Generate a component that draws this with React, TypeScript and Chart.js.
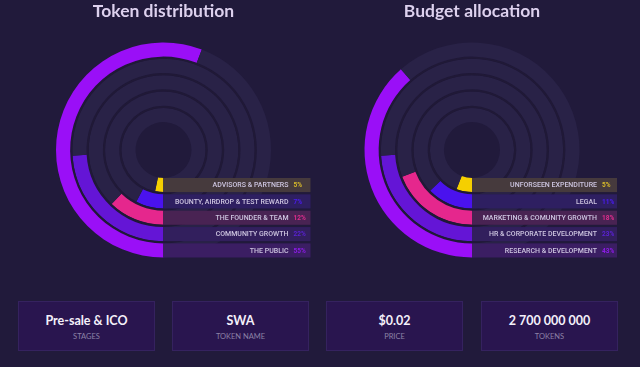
import React, { useEffect, useRef } from "react";
import { Chart, registerables } from "chart.js";
Chart.register(...registerables);

// ---------- data ----------
const tokenTitle = "Token distribution";
const tokenCategories = ["ADVISORS & PARTNERS", "BOUNTY, AIRDROP & TEST REWARD", "THE FOUNDER & TEAM", "COMMUNITY GROWTH", "THE PUBLIC"];
const tokenPercentLabels = ["5%", "7%", "12%", "22%", "55%"];
const tokenArcValues = [3.2, 7.7, 12.2, 24, 55.8];

const budgetTitle = "Budget allocation";
const budgetCategories = ["UNFORSEEN EXPENDITURE", "LEGAL", "MARKETING & COMUNITY GROWTH", "HR & CORPORATE DEVELOPMENT", "RESEARCH & DEVELOPMENT"];
const budgetPercentLabels = ["5%", "11%", "18%", "23%", "43%"];
const budgetArcValues = [6, 12.7, 19.2, 24, 38.5];

const statValues = ["Pre-sale & ICO", "SWA", "$0.02", "2 700 000 000"];
const statLabels = ["STAGES", "TOKEN NAME", "PRICE", "TOKENS"];

// ---------- style ----------
const BG = "#211a3b";
const TRACK = "#292247";
const SPACER = "#201937";
const ringColors = ["#f5cf00", "#4a12ee", "#e5278d", "#6415d6", "#9a0ff7"];
const rowTints = ["rgba(245,207,0,0.14)", "rgba(74,18,238,0.16)", "rgba(229,39,141,0.17)", "rgba(100,21,214,0.16)", "rgba(154,15,247,0.16)"];
const pctColors = ["#d9bb2a", "#4a1cf0", "#e02d8e", "#5a22d2", "#8c1ce6"];

type RingCfg = { categories: string[]; pcts: string[]; values: number[]; width: number };

const OUTER_R = 107.5;
const INNER_R = 28;

function RingChart({ cfg }: { cfg: RingCfg }) {
  const ref = useRef<HTMLCanvasElement>(null);
  useEffect(() => {
    if (!ref.current) return;
    const datasets: any[] = [];
    const ringIndexOf: number[] = [];
    for (let k = cfg.values.length - 1; k >= 0; k--) {
      ringIndexOf[k] = datasets.length;
      datasets.push({
        data: [cfg.values[k], 100 - cfg.values[k]],
        backgroundColor: [ringColors[k], TRACK],
        borderWidth: 0,
        weight: 14,
      });
      if (k > 0) {
        datasets.push({ data: [100], backgroundColor: [SPACER], borderWidth: 0, weight: 2.2 });
      }
    }
    const rowsPlugin = {
      id: "rows",
      afterDatasetsDraw(chart: any) {
        const ctx = chart.ctx as CanvasRenderingContext2D;
        ctx.save();
        for (let k = 0; k < cfg.values.length; k++) {
          const arc = chart.getDatasetMeta(ringIndexOf[k]).data[0];
          const cx = arc.x, cy = arc.y;
          const y0 = cy + arc.innerRadius;
          const h = arc.outerRadius - arc.innerRadius;
          const w = 147;
          ctx.fillStyle = TRACK;
          ctx.fillRect(cx, y0, w, h);
          ctx.fillStyle = rowTints[k];
          ctx.fillRect(cx, y0, w, h);
          const ym = y0 + h / 2 + 0.5;
          ctx.textBaseline = "middle";
          ctx.font = "500 7px Roboto";
          ctx.fillStyle = "#cdc5e0";
          ctx.textAlign = "right";
          ctx.fillText(cfg.categories[k], cx + 125, ym);
          ctx.font = "bold 6.5px Roboto";
          ctx.fillStyle = pctColors[k];
          ctx.textAlign = "left";
          ctx.fillText(cfg.pcts[k], cx + 130, ym);
        }
        ctx.restore();
      },
    };
    const chart = new Chart(ref.current, {
      type: "doughnut",
      data: { labels: ["value", "rest"], datasets },
      options: {
        animation: false,
        responsive: false,
        events: [],
        rotation: 180,
        radius: OUTER_R,
        cutout: (INNER_R / OUTER_R) * 100 + "%",
        layout: { padding: 0 },
        plugins: { legend: { display: false }, tooltip: { enabled: false }, title: { display: false } },
      } as any,
      plugins: [rowsPlugin],
    });
    return () => chart.destroy();
  }, [cfg]);
  return <canvas ref={ref} width={cfg.width} height={300} style={{ display: "block" }} />;
}

const tokenCfg: RingCfg = { categories: tokenCategories, pcts: tokenPercentLabels, values: tokenArcValues, width: 327 };
const budgetCfg: RingCfg = { categories: budgetCategories, pcts: budgetPercentLabels, values: budgetArcValues, width: 290 };

const boxLefts = [18, 172, 326, 481];

export default function App() {
  const titleStyle: React.CSSProperties = {
    position: "absolute",
    top: -1,
    textAlign: "center",
    fontFamily: "Lato, sans-serif",
    fontWeight: 700,
    fontSize: 17.5,
    lineHeight: "24px",
    color: "#ddd1ee",
  };
  return (
    <div style={{ position: "fixed", left: 0, top: 0, width: 640, height: 367, background: BG, overflow: "hidden" }}>
      <div style={{ position: "absolute", left: 0, top: 0 }}>
        <RingChart cfg={tokenCfg} />
      </div>
      <div style={{ position: "absolute", left: 327, top: 0 }}>
        <RingChart cfg={budgetCfg} />
      </div>
      <div style={{ ...titleStyle, left: 0, width: 327 }}>{tokenTitle}</div>
      <div style={{ ...titleStyle, left: 327, width: 290 }}>{budgetTitle}</div>
      {statValues.map((v, i) => (
        <div
          key={i}
          style={{
            position: "absolute",
            left: boxLefts[i],
            top: 301,
            width: 137,
            height: 50,
            boxSizing: "border-box",
            background: "#29154f",
            border: "1px solid #35225f",
            textAlign: "center",
            fontFamily: "Lato, sans-serif",
          }}
        >
          <div style={{ position: "absolute", left: 0, right: 0, top: 11, fontSize: 12.5, fontWeight: 700, color: "#f4f0fa", lineHeight: "16px" }}>{v}</div>
          <div style={{ position: "absolute", left: 0, right: 0, top: 30, fontSize: 7.5, color: "#8c82a6", lineHeight: "10px" }}>{statLabels[i]}</div>
        </div>
      ))}
    </div>
  );
}
